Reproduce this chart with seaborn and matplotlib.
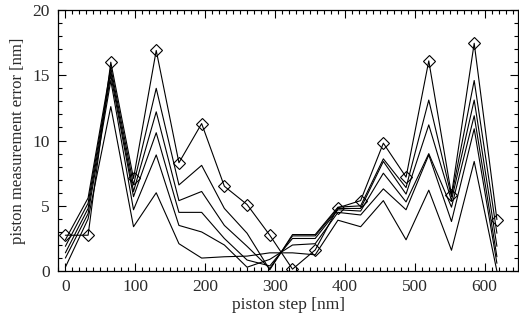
import matplotlib
matplotlib.use("Agg")
import matplotlib.pyplot as plt
from matplotlib.ticker import MultipleLocator
import seaborn as sns
import pandas as pd

# piston steps [nm]
steps = [0, 32.5, 65, 97.5, 130, 162.5, 195, 227.5, 260, 292.5,
         325, 357.5, 390, 422.5, 455, 487.5, 520, 552.5, 585, 617.5]

# series with diamond markers
err_diamond = [2.75, 2.75, 16.0, 7.1, 16.9, 8.3, 11.3, 6.5, 5.1, 2.75,
               0.15, 1.62, 4.85, 5.4, 9.8, 7.2, 16.1, 5.85, 17.45, 3.95]
# plain line series
err_1 = [2.4, 5.6, 15.6, 6.6, 14.0, 6.6, 8.1, 4.8, 2.9, 0.1,
         2.8, 2.8, 4.9, 5.0, 8.6, 6.4, 13.1, 5.7, 14.6, 2.9]
err_2 = [1.9, 5.2, 15.3, 6.1, 12.2, 5.4, 6.1, 3.5, 1.9, 0.2,
         2.7, 2.7, 4.8, 4.8, 8.4, 5.9, 11.2, 5.4, 13.1, 1.9]
err_3 = [1.4, 4.8, 15.0, 5.7, 10.6, 4.5, 4.5, 2.5, 0.85, 0.4,
         2.5, 2.5, 4.7, 4.6, 7.5, 5.3, 9.0, 4.9, 11.9, 1.1]
err_4 = [1.0, 4.4, 14.6, 4.7, 8.9, 3.5, 3.0, 2.0, 0.3, 0.9,
         2.0, 2.1, 4.5, 4.3, 6.3, 4.7, 8.9, 3.8, 10.9, 0.6]
err_5 = [0.3, 4.0, 12.6, 3.4, 6.0, 2.1, 1.0, 1.1, 1.15, 1.4,
         1.4, 1.25, 3.9, 3.4, 5.4, 2.4, 6.2, 1.6, 8.4, 0.0]

x_label = "piston step [nm]"
y_label = "piston measurement error [nm]"

sns.set_theme(style="ticks")
plt.rcParams["font.family"] = ["Liberation Serif", "DejaVu Serif"]

fig = plt.figure(figsize=(5.19, 3.22), dpi=100)
ax = fig.add_axes([0.1125, 0.158, 0.886, 0.811])

text_col = "#2a2a2a"
for ys in [err_1, err_2, err_3, err_4, err_5]:
    df = pd.DataFrame({"x": steps, "y": ys})
    sns.lineplot(data=df, x="x", y="y", ax=ax, color="black", linewidth=0.8,
                 sort=False, estimator=None)

df_d = pd.DataFrame({"x": steps, "y": err_diamond})
sns.lineplot(data=df_d, x="x", y="y", ax=ax, color="black", linewidth=0.8,
             sort=False, estimator=None, marker="D", markersize=6.5,
             markerfacecolor="none", markeredgecolor="black", markeredgewidth=0.8)

ax.set_xlim(-10, 648)
ax.set_ylim(0, 20)
ax.xaxis.set_major_locator(MultipleLocator(100))
ax.xaxis.set_minor_locator(MultipleLocator(10))
ax.yaxis.set_major_locator(MultipleLocator(5))
ax.yaxis.set_minor_locator(MultipleLocator(1))
ax.tick_params(which="both", direction="in", top=True, right=True,
               color="black", width=0.8, labelsize=12.5, labelcolor=text_col)
ax.tick_params(which="major", length=6, pad=6)
ax.tick_params(which="minor", length=3)
for s in ax.spines.values():
    s.set_color("black")
    s.set_linewidth(0.9)

ax.set_xlabel(x_label, fontsize=12.5, color=text_col, labelpad=1)
ax.set_ylabel(y_label, fontsize=12, color=text_col, labelpad=5)

fig.savefig("out.png", dpi=100)
